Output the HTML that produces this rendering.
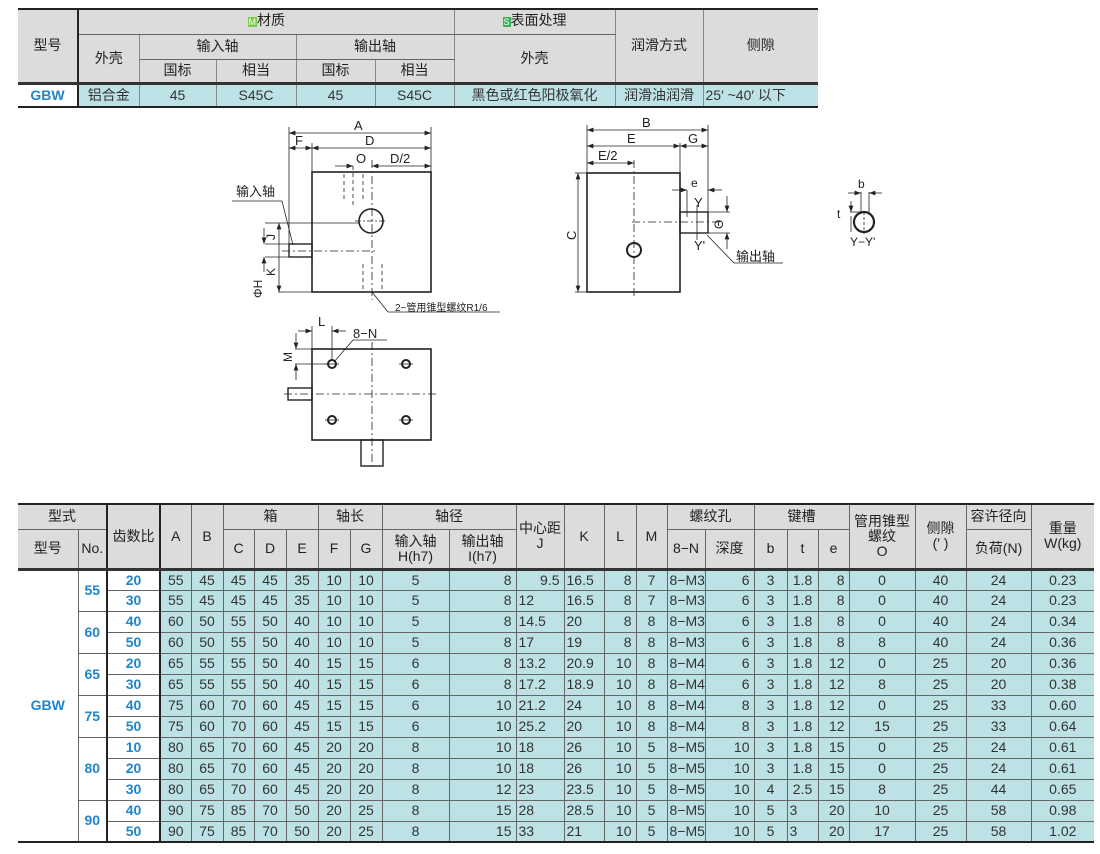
<!DOCTYPE html>
<html><head><meta charset="utf-8">
<style>
body{margin:0;width:1100px;height:854px;background:#fff;position:relative;overflow:hidden;font-family:"Liberation Sans","Noto Sans CJK SC",sans-serif;color:#222}
table{border-collapse:collapse;table-layout:fixed;position:absolute;font-size:14px}
td{border:1px solid #666;text-align:center;padding:0;overflow:hidden;white-space:nowrap;line-height:15px}
.h td{background:#dcdcdc}
.d td{background:#bde2e6;color:#333}
.d td.b{color:#1f86cc!important;background:#fff!important;font-weight:bold}
.tk{border-left:2px solid #222}
.tkr{border-right:2px solid #222}
.l{text-align:left;padding-left:2px}
.r{text-align:right;padding-right:4px}
#t1{left:18px;top:8px;width:800px;border-top:2px solid #222;border-bottom:2px solid #222}
#t1 td{border-left-color:#888;border-right-color:#888}
#t1 td.tkr{border-right:2px solid #222}
#t2{left:18px;top:503px;width:1076px;border-top:2px solid #222;border-bottom:2px solid #222}
tr.top td{border-top:3px solid #333}
</style></head><body>
<table id="t1">
<colgroup><col style="width:60px"><col style="width:61px"><col style="width:77px"><col style="width:80px"><col style="width:79px"><col style="width:79px"><col style="width:161px"><col style="width:88px"><col style="width:115px"></colgroup>
<tr class="h" style="height:25px"><td rowspan="3" class="tkr" style="border-left:none">型号</td><td colspan="5"><span style="background:#7ec84a;color:#fff;font-size:9px;padding:0 1px">M</span>材质</td><td><span style="background:#3fae5a;color:#fff;font-size:9px;padding:0 1px">S</span>表面处理</td><td rowspan="3">润滑方式</td><td rowspan="3" style="border-right:none">侧隙</td></tr>
<tr class="h" style="height:25px"><td rowspan="2">外壳</td><td colspan="2">输入轴</td><td colspan="2">输出轴</td><td rowspan="2">外壳</td></tr>
<tr class="h" style="height:24px"><td>国标</td><td>相当</td><td>国标</td><td>相当</td></tr>
<tr class="d top" style="height:24px"><td class="b tkr" style="border-left:none">GBW</td><td>铝合金</td><td>45</td><td>S45C</td><td>45</td><td>S45C</td><td>黑色或红色阳极氧化</td><td>润滑油润滑</td><td style="border-right:none" class="l">25′ ~40′ 以下</td></tr>
</table>

<svg style="position:absolute;left:0;top:0" width="1100" height="500" font-family="Liberation Sans,Noto Sans CJK SC,sans-serif" font-size="13" fill="none" stroke="#222">
<defs><marker id="a" markerWidth="8" markerHeight="6" refX="8" refY="3" orient="auto-start-reverse"><path d="M0,0 L8,3 L0,6z" fill="#222" stroke="none"/></marker></defs>
<rect x="312" y="172" width="119" height="120" stroke-width="1.6"/>
<rect x="289" y="244" width="23" height="13" stroke-width="1.4"/>
<circle cx="371" cy="221" r="12" stroke-width="1.6"/>
<g stroke-width="0.8">
<line x1="289" y1="127" x2="289" y2="244"/><line x1="312" y1="143" x2="312" y2="172"/><line x1="431" y1="127" x2="431" y2="172"/>
<line x1="289" y1="133" x2="431" y2="133" marker-start="url(#a)" marker-end="url(#a)"/>
<line x1="289" y1="148" x2="312" y2="148" marker-start="url(#a)" marker-end="url(#a)"/>
<line x1="312" y1="148" x2="431" y2="148" marker-start="url(#a)" marker-end="url(#a)"/>
<line x1="335" y1="166" x2="353" y2="166" marker-end="url(#a)"/><line x1="372" y1="166" x2="431" y2="166" marker-start="url(#a)" marker-end="url(#a)"/>
<line x1="372" y1="160" x2="372" y2="300" stroke-dasharray="8,3,2,3"/>
<line x1="282" y1="251" x2="375" y2="251" stroke-dasharray="8,3,2,3"/>
<line x1="355" y1="221" x2="387" y2="221" stroke-dasharray="6,2,2,2"/>
<line x1="344" y1="174" x2="344" y2="200" stroke-dasharray="4,3"/><line x1="353" y1="166" x2="353" y2="205" stroke-dasharray="4,3"/><line x1="363" y1="174" x2="363" y2="200" stroke-dasharray="4,3"/>
<line x1="363" y1="264" x2="363" y2="292" stroke-dasharray="4,3"/><line x1="382" y1="264" x2="382" y2="292" stroke-dasharray="4,3"/>
<line x1="265" y1="223" x2="360" y2="223"/><line x1="265" y1="244" x2="289" y2="244"/><line x1="265" y1="257" x2="289" y2="257"/><line x1="278" y1="292" x2="312" y2="292"/>
<line x1="279" y1="223" x2="279" y2="292" marker-start="url(#a)" marker-end="url(#a)"/>
<line x1="264" y1="228" x2="264" y2="244" marker-end="url(#a)"/><line x1="264" y1="272" x2="264" y2="257" marker-end="url(#a)"/>
<polyline points="232,201 282,201 293,245"/>
<polyline points="372,292 388,312 500,312"/>
</g>
<g fill="#222" stroke="none">
<text x="354" y="130" font-size="13">A</text><text x="295" y="145">F</text><text x="365" y="145">D</text><text x="356" y="163">O</text><text x="390" y="163">D/2</text>
<text x="236" y="196" font-size="13">输入轴</text>
<text x="395" y="311" font-size="10">2−管用锥型螺纹R1/6</text>
<text transform="translate(275,240) rotate(-90)" font-size="12">J</text>
<text transform="translate(275,276) rotate(-90)" font-size="12">K</text>
<text transform="translate(262,298) rotate(-90)" font-size="12">ΦH</text>
</g>
<rect x="587" y="173" width="93" height="119" stroke-width="1.6"/>
<rect x="680" y="212" width="28" height="21" stroke-width="1.4"/>
<circle cx="634" cy="250" r="7" stroke-width="2"/>
<g stroke-width="0.8">
<line x1="587" y1="125" x2="587" y2="173"/><line x1="708" y1="125" x2="708" y2="212"/><line x1="680" y1="143" x2="680" y2="173"/>
<line x1="587" y1="130" x2="708" y2="130" marker-start="url(#a)" marker-end="url(#a)"/>
<line x1="587" y1="146" x2="680" y2="146" marker-start="url(#a)" marker-end="url(#a)"/>
<line x1="680" y1="146" x2="708" y2="146" marker-start="url(#a)" marker-end="url(#a)"/>
<line x1="587" y1="163" x2="634" y2="163" marker-start="url(#a)" marker-end="url(#a)"/>
<line x1="634" y1="160" x2="634" y2="298" stroke-dasharray="8,3,2,3"/>
<line x1="632" y1="222" x2="720" y2="222" stroke-dasharray="8,3,2,3"/>
<line x1="578" y1="173" x2="578" y2="292" marker-start="url(#a)" marker-end="url(#a)"/>
<line x1="575" y1="173" x2="587" y2="173"/><line x1="575" y1="292" x2="587" y2="292"/>
<line x1="687" y1="190" x2="687" y2="217"/>
<line x1="672" y1="190" x2="687" y2="190" marker-end="url(#a)"/><line x1="722" y1="190" x2="708" y2="190" marker-end="url(#a)"/>
<line x1="697" y1="205" x2="697" y2="240"/>
<line x1="708" y1="212" x2="730" y2="212"/><line x1="708" y1="233" x2="730" y2="233"/>
<line x1="727" y1="196" x2="727" y2="212" marker-end="url(#a)"/><line x1="727" y1="249" x2="727" y2="233" marker-end="url(#a)"/>
<polyline points="707,235 734,263 783,263"/>
</g>
<g fill="#222" stroke="none">
<text x="642" y="127">B</text><text x="627" y="143">E</text><text x="688" y="143">G</text><text x="598" y="160">E/2</text>
<text x="691" y="187" font-size="12">e</text><text x="694" y="207">Y</text><text x="694" y="250">Y'</text>
<text transform="translate(723,229) rotate(-90)" font-size="12">Θ</text>
<text x="736" y="261">输出轴</text>
<text transform="translate(576,240) rotate(-90)">C</text>
<text x="858" y="188" font-size="12">b</text><text x="837" y="218" font-size="12">t</text><text x="850" y="246" font-size="12">Y−Y'</text>
</g>
<circle cx="864" cy="222" r="10" stroke-width="2.2"/>
<g stroke-width="0.8"><line x1="861" y1="192" x2="861" y2="214"/><line x1="869" y1="192" x2="869" y2="214"/>
<line x1="848" y1="193" x2="861" y2="193" marker-end="url(#a)"/><line x1="882" y1="193" x2="869" y2="193" marker-end="url(#a)"/>
<line x1="850" y1="212" x2="864" y2="212"/><line x1="851" y1="201" x2="851" y2="212" marker-end="url(#a)"/><line x1="851" y1="232" x2="851" y2="216"/>
<line x1="864" y1="212" x2="864" y2="234" stroke-dasharray="3,2"/></g>
<rect x="312" y="349" width="119" height="91" stroke-width="1.6"/>
<rect x="288" y="388" width="24" height="12" stroke-width="1.4"/>
<rect x="361" y="440" width="22" height="26" stroke-width="1.4"/>
<g stroke-width="2"><circle cx="332" cy="364" r="4"/><circle cx="406" cy="364" r="4"/><circle cx="332" cy="420" r="4"/><circle cx="406" cy="420" r="4"/></g>
<g stroke-width="0.8">
<line x1="325" y1="364" x2="339" y2="364"/><line x1="399" y1="364" x2="413" y2="364"/><line x1="325" y1="420" x2="339" y2="420"/><line x1="399" y1="420" x2="413" y2="420"/>
<line x1="372" y1="342" x2="372" y2="466" stroke-dasharray="8,3,2,3"/>
<line x1="284" y1="394" x2="436" y2="394" stroke-dasharray="8,3,2,3"/>
<line x1="312" y1="326" x2="312" y2="349"/><line x1="332" y1="326" x2="332" y2="360"/>
<line x1="298" y1="331" x2="312" y2="331" marker-end="url(#a)"/><line x1="346" y1="331" x2="332" y2="331" marker-end="url(#a)"/>
<line x1="295" y1="349" x2="312" y2="349"/><line x1="295" y1="364" x2="328" y2="364"/>
<line x1="296" y1="333" x2="296" y2="349" marker-end="url(#a)"/><line x1="296" y1="380" x2="296" y2="364" marker-end="url(#a)"/>
<polyline points="334,362 353,340 387,340"/>
</g>
<g fill="#222" stroke="none"><text x="318" y="326">L</text><text x="353" y="338">8−N</text>
<text transform="translate(292,362) rotate(-90)" font-size="12">M</text></g>
</svg>

<table id="t2">
<colgroup><col style="width:60px"><col style="width:29px"><col style="width:53px"><col style="width:31px"><col style="width:32px"><col style="width:31px"><col style="width:32px"><col style="width:32px"><col style="width:32px"><col style="width:32px"><col style="width:67px"><col style="width:67px"><col style="width:48px"><col style="width:40px"><col style="width:32px"><col style="width:31px"><col style="width:38px"><col style="width:49px"><col style="width:33px"><col style="width:31px"><col style="width:31px"><col style="width:66px"><col style="width:51px"><col style="width:65px"><col style="width:63px"></colgroup>
<tr class="h" style="height:25px"><td colspan="2" style="border-left:none">型式</td><td rowspan="2" class="tk tkr">齿数比</td><td rowspan="2">A</td><td rowspan="2">B</td><td colspan="3">箱</td><td colspan="2">轴长</td><td colspan="2">轴径</td><td rowspan="2">中心距<br>J</td><td rowspan="2">K</td><td rowspan="2">L</td><td rowspan="2">M</td><td colspan="2">螺纹孔</td><td colspan="3">键槽</td><td rowspan="2">管用锥型<br>螺纹<br>O</td><td rowspan="2">侧隙<br>(′ )</td><td>容许径向</td><td rowspan="2" style="border-right:none">重量<br>W(kg)</td></tr>
<tr class="h" style="height:40px"><td style="border-left:none">型号</td><td>No.</td><td>C</td><td>D</td><td>E</td><td>F</td><td>G</td><td>输入轴<br>H(h7)</td><td>输出轴<br>I(h7)</td><td>8−N</td><td>深度</td><td>b</td><td>t</td><td>e</td><td>负荷(N)</td></tr>
<tr class="d top" style="height:21px"><td rowspan="13" class="b" style="border-left:none">GBW</td><td rowspan="2" class="b">55</td><td class="b tk tkr">20</td><td>55</td><td>45</td><td>45</td><td>45</td><td>35</td><td>10</td><td>10</td><td>5</td><td class="r">8</td><td class="r">9.5</td><td class="l">16.5</td><td class="r">8</td><td>7</td><td class="l">8−M3</td><td class="r">6</td><td>3</td><td>1.8</td><td class="r">8</td><td>0</td><td>40</td><td>24</td><td style="border-right:none">0.23</td></tr>
<tr class="d" style="height:21px"><td class="b tk tkr">30</td><td>55</td><td>45</td><td>45</td><td>45</td><td>35</td><td>10</td><td>10</td><td>5</td><td class="r">8</td><td class="l">12</td><td class="l">16.5</td><td class="r">8</td><td>7</td><td class="l">8−M3</td><td class="r">6</td><td>3</td><td>1.8</td><td class="r">8</td><td>0</td><td>40</td><td>24</td><td style="border-right:none">0.23</td></tr>
<tr class="d" style="height:21px"><td rowspan="2" class="b">60</td><td class="b tk tkr">40</td><td>60</td><td>50</td><td>55</td><td>50</td><td>40</td><td>10</td><td>10</td><td>5</td><td class="r">8</td><td class="l">14.5</td><td class="l">20</td><td class="r">8</td><td>8</td><td class="l">8−M3</td><td class="r">6</td><td>3</td><td>1.8</td><td class="r">8</td><td>0</td><td>40</td><td>24</td><td style="border-right:none">0.34</td></tr>
<tr class="d" style="height:21px"><td class="b tk tkr">50</td><td>60</td><td>50</td><td>55</td><td>50</td><td>40</td><td>10</td><td>10</td><td>5</td><td class="r">8</td><td class="l">17</td><td class="l">19</td><td class="r">8</td><td>8</td><td class="l">8−M3</td><td class="r">6</td><td>3</td><td>1.8</td><td class="r">8</td><td>8</td><td>40</td><td>24</td><td style="border-right:none">0.36</td></tr>
<tr class="d" style="height:21px"><td rowspan="2" class="b">65</td><td class="b tk tkr">20</td><td>65</td><td>55</td><td>55</td><td>50</td><td>40</td><td>15</td><td>15</td><td>6</td><td class="r">8</td><td class="l">13.2</td><td class="l">20.9</td><td class="r">10</td><td>8</td><td class="l">8−M4</td><td class="r">6</td><td>3</td><td>1.8</td><td class="r">12</td><td>0</td><td>25</td><td>20</td><td style="border-right:none">0.36</td></tr>
<tr class="d" style="height:21px"><td class="b tk tkr">30</td><td>65</td><td>55</td><td>55</td><td>50</td><td>40</td><td>15</td><td>15</td><td>6</td><td class="r">8</td><td class="l">17.2</td><td class="l">18.9</td><td class="r">10</td><td>8</td><td class="l">8−M4</td><td class="r">6</td><td>3</td><td>1.8</td><td class="r">12</td><td>8</td><td>25</td><td>20</td><td style="border-right:none">0.38</td></tr>
<tr class="d" style="height:21px"><td rowspan="2" class="b">75</td><td class="b tk tkr">40</td><td>75</td><td>60</td><td>70</td><td>60</td><td>45</td><td>15</td><td>15</td><td>6</td><td class="r">10</td><td class="l">21.2</td><td class="l">24</td><td class="r">10</td><td>8</td><td class="l">8−M4</td><td class="r">8</td><td>3</td><td>1.8</td><td class="r">12</td><td>0</td><td>25</td><td>33</td><td style="border-right:none">0.60</td></tr>
<tr class="d" style="height:21px"><td class="b tk tkr">50</td><td>75</td><td>60</td><td>70</td><td>60</td><td>45</td><td>15</td><td>15</td><td>6</td><td class="r">10</td><td class="l">25.2</td><td class="l">20</td><td class="r">10</td><td>8</td><td class="l">8−M4</td><td class="r">8</td><td>3</td><td>1.8</td><td class="r">12</td><td>15</td><td>25</td><td>33</td><td style="border-right:none">0.64</td></tr>
<tr class="d" style="height:21px"><td rowspan="3" class="b">80</td><td class="b tk tkr">10</td><td>80</td><td>65</td><td>70</td><td>60</td><td>45</td><td>20</td><td>20</td><td>8</td><td class="r">10</td><td class="l">18</td><td class="l">26</td><td class="r">10</td><td>5</td><td class="l">8−M5</td><td class="r">10</td><td>3</td><td>1.8</td><td class="r">15</td><td>0</td><td>25</td><td>24</td><td style="border-right:none">0.61</td></tr>
<tr class="d" style="height:21px"><td class="b tk tkr">20</td><td>80</td><td>65</td><td>70</td><td>60</td><td>45</td><td>20</td><td>20</td><td>8</td><td class="r">10</td><td class="l">18</td><td class="l">26</td><td class="r">10</td><td>5</td><td class="l">8−M5</td><td class="r">10</td><td>3</td><td>1.8</td><td class="r">15</td><td>0</td><td>25</td><td>24</td><td style="border-right:none">0.61</td></tr>
<tr class="d" style="height:21px"><td class="b tk tkr">30</td><td>80</td><td>65</td><td>70</td><td>60</td><td>45</td><td>20</td><td>20</td><td>8</td><td class="r">12</td><td class="l">23</td><td class="l">23.5</td><td class="r">10</td><td>5</td><td class="l">8−M5</td><td class="r">10</td><td>4</td><td>2.5</td><td class="r">15</td><td>8</td><td>25</td><td>44</td><td style="border-right:none">0.65</td></tr>
<tr class="d" style="height:21px"><td rowspan="2" class="b">90</td><td class="b tk tkr">40</td><td>90</td><td>75</td><td>85</td><td>70</td><td>50</td><td>20</td><td>25</td><td>8</td><td class="r">15</td><td class="l">28</td><td class="l">28.5</td><td class="r">10</td><td>5</td><td class="l">8−M5</td><td class="r">10</td><td>5</td><td class="l">3</td><td class="r">20</td><td>10</td><td>25</td><td>58</td><td style="border-right:none">0.98</td></tr>
<tr class="d" style="height:21px"><td class="b tk tkr">50</td><td>90</td><td>75</td><td>85</td><td>70</td><td>50</td><td>20</td><td>25</td><td>8</td><td class="r">15</td><td class="l">33</td><td class="l">21</td><td class="r">10</td><td>5</td><td class="l">8−M5</td><td class="r">10</td><td>5</td><td class="l">3</td><td class="r">20</td><td>17</td><td>25</td><td>58</td><td style="border-right:none">1.02</td></tr>
</table>
</body></html>
